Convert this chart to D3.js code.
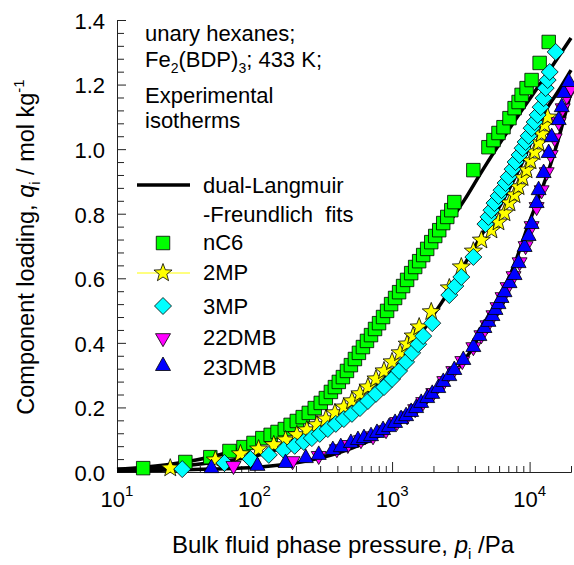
<!DOCTYPE html>
<html>
<head>
<meta charset="utf-8">
<script src="https://cdn.jsdelivr.net/npm/d3@7"></script>
<style>
  body { margin: 0; background: #fff; }
  svg { display: block; font-family: "Liberation Sans", Arial, sans-serif; }
  .axis text { font-family: "Liberation Sans", Arial, sans-serif; font-size: 22px; fill: #000; }
  .axis line, .axis path { stroke: #222; }
</style>
</head>
<body>
<script>
var width = 574, height = 565;

// experimental points, [pressure / Pa, loading / mol kg-1]
var nC6 = [[15.5,0.012],[31.4,0.031],[47.7,0.046],[65.7,0.065],[83.1,0.077],[98.3,0.090],[114,0.105],[131,0.115],
  [147,0.124],[166,0.133],[183,0.146],[203,0.158],[224,0.170],[248,0.183],[274,0.198],[303,0.214],[330,0.229],
  [359,0.248],[384,0.263],[410,0.279],[439,0.294],[470,0.313],[502,0.331],[537,0.350],[574,0.369],[614,0.387],
  [657,0.406],[703,0.424],[752,0.443],[804,0.461],[860,0.480],[920,0.499],[984,0.520],[1052,0.539],[1125,0.557],
  [1203,0.576],[1286,0.595],[1377,0.616],[1472,0.635],[1574,0.653],[1684,0.672],[1800,0.691],[1927,0.712],
  [2060,0.731],[2203,0.749],[2355,0.771],[2520,0.790],[2696,0.811],[2837,0.836],[3900,0.935],[5020,1.006],
  [5460,1.028],[5940,1.050],[6460,1.068],[7140,1.096],[7780,1.127],[8320,1.146],[8750,1.168],[9510,1.189],
  [10340,1.214],[11830,1.267],[13770,1.332]];

var mp2 = [[24.4,0.012],[51.9,0.037],[79.0,0.056],[107,0.071],[138,0.084],[168,0.099],[203,0.115],[240,0.130],
  [284,0.146],[330,0.164],[384,0.183],[446,0.201],[511,0.220],[584,0.242],[668,0.263],[764,0.288],[874,0.313],
  [1000,0.341],[1144,0.369],[1287,0.396],[1423,0.421],[1574,0.449],[1927,0.496],[2607,0.570],[3188,0.635],
  [3901,0.684],[4462,0.718],[5280,0.749],[5940,0.774],[6571,0.802],[7145,0.833],[7773,0.858],[8314,0.883],
  [8893,0.911],[9508,0.935],[10170,0.963],[10880,0.991],[11630,1.019],[12230,1.047],[12870,1.075],[13530,1.099]];

var mp3 = [[29.8,0.009],[60.4,0.028],[93.5,0.040],[127,0.053],[163,0.068],[196,0.081],[228,0.093],[261,0.105],
  [298,0.118],[341,0.133],[390,0.149],[446,0.164],[511,0.180],[584,0.198],[668,0.220],[764,0.242],[874,0.263],
  [1000,0.288],[1125,0.313],[1265,0.341],[1400,0.369],[1548,0.396],[1684,0.421],[1959,0.461],[2607,0.548],
  [2884,0.576],[3188,0.604],[3901,0.666],[4773,0.768],[5020,0.790],[5280,0.811],[5553,0.833],[5940,0.855],
  [6248,0.873],[6683,0.895],[7028,0.914],[7516,0.938],[7905,0.960],[8455,0.982],[8893,1.003],[9350,1.022],
  [9833,1.041],[10340,1.065],[10880,1.084],[11440,1.106],[12030,1.130],[12650,1.158],[13090,1.189],
  [13530,1.214],[14000,1.239],[15480,1.301]];

var dmb22 = [[70.3,0.019],[189,0.034],[293,0.050],[397,0.071],[477,0.084],[594,0.099],[727,0.111],[904,0.130],
  [1088,0.155],[1287,0.173],[1472,0.195],[1684,0.217],[1993,0.245],[2397,0.282],[2788,0.313],[3242,0.344],
  [3901,0.387],[4462,0.424],[4936,0.455],[5461,0.486],[5841,0.511],[6354,0.542],[6911,0.573],[7643,0.607],
  [8455,0.650],[9350,0.700],[10340,0.762],[11250,0.821],[12230,0.873],[13310,0.929],[14230,0.982],
  [15220,1.034],[16280,1.084],[17410,1.127],[18630,1.164],[19930,1.189]];

var dmb23 = [[48.6,0.012],[105,0.019],[168,0.028],[236,0.043],[293,0.053],[371,0.068],[424,0.077],[502,0.090],
  [565,0.099],[625,0.105],[703,0.111],[777,0.121],[860,0.130],[951,0.139],[1052,0.152],[1163,0.164],
  [1265,0.173],[1376,0.186],[1497,0.198],[1628,0.214],[1801,0.229],[1959,0.242],[2167,0.260],[2357,0.279],
  [2607,0.297],[2836,0.316],[3297,0.347],[3901,0.387],[4315,0.421],[4693,0.446],[5020,0.465],[5370,0.483],
  [5648,0.502],[5940,0.520],[6248,0.539],[6571,0.557],[7145,0.585],[7773,0.610],[8314,0.647],[9194,0.697],
  [9833,0.731],[10340,0.768],[11250,0.833],[11630,0.873],[12650,0.926],[13760,0.988],[14470,1.037],
  [16280,1.090],[17130,1.130],[17710,1.174],[19270,1.208]];

// dual-Langmuir-Freundlich fit curves
var fitNC6 = [[10,0.009],[15.5,0.015],[31.4,0.031],[65.7,0.062],[114,0.099],[183,0.139],[303,0.207],[502,0.322],
  [831,0.458],[1377,0.598],[2279,0.737],[3353,0.842],[4462,0.929],[7773,1.087],[13990,1.245],[20000,1.344]];
var fitMP = [[10,0.006],[24.4,0.015],[51.9,0.031],[93.5,0.046],[163,0.077],[303,0.133],[502,0.195],[831,0.276],
  [1265,0.362],[1574,0.418],[1927,0.477],[2279,0.523],[3188,0.626],[4615,0.743],[6248,0.833],[8745,0.954],
  [12870,1.115],[16010,1.177],[20000,1.245]];
var fitDMB = [[10,0.003],[48.6,0.009],[105,0.015],[217,0.031],[424,0.062],[831,0.115],[1376,0.177],[2279,0.260],
  [3033,0.322],[3772,0.378],[4693,0.452],[6248,0.551],[7773,0.644],[9833,0.768],[12230,0.873],[15740,1.013],
  [20000,1.177]];

var xMajor = [10, 100, 1000, 10000];
var yMajor = [0, 0.2, 0.4, 0.6, 0.8, 1.0, 1.2, 1.4];

var svg = d3.select("body").append("svg")
    .attr("width", width)
    .attr("height", height);

svg.append("rect").attr("width", width).attr("height", height).attr("fill", "#fff");

var xScale = d3.scaleLog().domain([10, 20000]).range([117, 571]);
var yScale = d3.scaleLinear().domain([0, 1.4]).range([472, 20]);

//axes
var xMinor = [];
xMajor.forEach(function(d){
  for (var k = 2; k <= 9; k++) { if (d * k <= 20000) xMinor.push(d * k); }
});
var yMinor = d3.range(0, 71).map(function(i){ return i * 0.02; })
  .filter(function(v){ return Math.round(v * 100) % 4 == 0 && Math.round(v * 100) % 20 != 0; });

svg.append("g")
    .attr("class", "axis")
    .attr("transform", "translate(0,472)")
    .call(d3.axisBottom(xScale).tickValues(xMinor).tickSize(-6).tickSizeOuter(0).tickFormat(""));
svg.append("g")
    .attr("class", "axis")
    .attr("transform", "translate(0,472)")
    .call(d3.axisBottom(xScale).tickValues(xMajor).tickSize(-10).tickSizeOuter(0).tickFormat(""));

svg.append("g")
    .attr("class", "axis")
    .attr("transform", "translate(117,0)")
    .call(d3.axisLeft(yScale).tickValues(yMinor).tickSize(-7).tickSizeOuter(0).tickFormat(""));
svg.append("g")
    .attr("class", "axis")
    .attr("transform", "translate(117,0)")
    .call(d3.axisLeft(yScale).tickValues(yMajor).tickSize(-9).tickSizeOuter(0)
      .tickPadding(12).tickFormat(d3.format(".1f")))
  .selectAll("text").attr("dy", "0.38em");

// x tick labels 10^n
xMajor.forEach(function(d){
  var t = svg.append("text")
      .attr("x", xScale(d))
      .attr("y", 507)
      .attr("text-anchor", "middle")
      .style("font-size", "22px");
  t.append("tspan").text("10");
  t.append("tspan").attr("dy", -11).style("font-size", "15px").text(Math.round(Math.log10(d)));
});

// axis titles
var xt = svg.append("text")
    .attr("x", 343).attr("y", 553)
    .attr("text-anchor", "middle")
    .style("font-size", "24px");
xt.append("tspan").text("Bulk fluid phase pressure, ");
xt.append("tspan").style("font-style", "italic").text("p");
xt.append("tspan").attr("dy", 6).style("font-size", "15px").text("i");
xt.append("tspan").attr("dy", -6).text(" /Pa");

var yt = svg.append("text")
    .attr("transform", "translate(34,247) rotate(-90)")
    .attr("text-anchor", "middle")
    .style("font-size", "23.5px");
yt.append("tspan").text("Component loading, ");
yt.append("tspan").style("font-style", "italic").text("q");
yt.append("tspan").attr("dy", 6).style("font-size", "15px").text("i");
yt.append("tspan").attr("dy", -6).text(" / mol kg");
yt.append("tspan").attr("dy", -10).style("font-size", "15px").text("-1");

// annotation
var note = svg.append("g").style("font-size", "22px");
note.append("text").attr("x", 145).attr("y", 41).text("unary hexanes;");
var fe = note.append("text").attr("x", 145).attr("y", 67);
fe.append("tspan").text("Fe");
fe.append("tspan").attr("dy", 6).style("font-size", "14px").text("2");
fe.append("tspan").attr("dy", -6).text("(BDP)");
fe.append("tspan").attr("dy", 6).style("font-size", "14px").text("3");
fe.append("tspan").attr("dy", -6).text("; 433 K;");
note.append("text").attr("x", 145).attr("y", 103).text("Experimental");
note.append("text").attr("x", 145).attr("y", 128).text("isotherms");

// marker shapes
function squarePath(s){ var h = s / 2; return "M" + (-h) + "," + (-h) + "h" + s + "v" + s + "h" + (-s) + "Z"; }
function diamondPath(r){ return "M0," + (-r) + "L" + r + ",0L0," + r + "L" + (-r) + ",0Z"; }
function triUpPath(w, h){ return "M0," + (-2 * h / 3) + "L" + (w / 2) + "," + (h / 3) + "L" + (-w / 2) + "," + (h / 3) + "Z"; }
function triDownPath(w, h){ return "M0," + (2 * h / 3) + "L" + (w / 2) + "," + (-h / 3) + "L" + (-w / 2) + "," + (-h / 3) + "Z"; }
function starPath(R, r){
  var pts = [];
  for (var i = 0; i < 10; i++) {
    var a = -Math.PI / 2 + i * Math.PI / 5, rad = (i % 2 == 0) ? R : r;
    pts.push((rad * Math.cos(a)).toFixed(2) + "," + (rad * Math.sin(a)).toFixed(2));
  }
  return "M" + pts.join("L") + "Z";
}

var series = [
  { name: "nC6",   data: nC6,   fill: "#00ff00", path: squarePath(13.5) },
  { name: "2MP",   data: mp2,   fill: "#ffff00", path: starPath(9.5, 4) },
  { name: "3MP",   data: mp3,   fill: "#00ffff", path: diamondPath(8.5) },
  { name: "22DMB", data: dmb22, fill: "#ff00ff", path: triDownPath(15, 13) },
  { name: "23DMB", data: dmb23, fill: "#0000ff", path: triUpPath(15, 13.5) }
];

// fits
var fitLine = d3.line()
    .x(function(d){ return xScale(d[0]); })
    .y(function(d){ return yScale(d[1]); })
    .curve(d3.curveMonotoneX);

[fitNC6, fitMP, fitDMB].forEach(function(f){
  svg.append("path")
      .datum(f)
      .attr("d", fitLine)
      .attr("fill", "none")
      .attr("stroke", "#000")
      .attr("stroke-width", 3.5);
});

// points
series.forEach(function(s){
  svg.append("g").selectAll("path")
      .data(s.data)
      .enter().append("path")
      .attr("d", s.path)
      .attr("transform", function(d){ return "translate(" + xScale(d[0]) + "," + yScale(d[1]) + ")"; })
      .attr("fill", s.fill)
      .attr("stroke", "#000")
      .attr("stroke-width", 0.8);
});

// legend
var legend = svg.append("g").style("font-size", "22px");
legend.append("line")
    .attr("x1", 137).attr("x2", 190).attr("y1", 185).attr("y2", 185)
    .attr("stroke", "#000").attr("stroke-width", 3.5);
legend.append("text").attr("x", 203).attr("y", 193).text("dual-Langmuir");
legend.append("text").attr("x", 203).attr("y", 222).style("white-space", "pre").text("-Freundlich  fits");

var legY = [243, 273, 306, 338, 366];
var legText = [250, 280, 314, 345, 375];
legend.append("line")
    .attr("x1", 137).attr("x2", 190).attr("y1", legY[1]).attr("y2", legY[1])
    .attr("stroke", "#ffff00").attr("stroke-width", 1);
series.forEach(function(s, i){
  legend.append("path")
      .attr("d", s.path)
      .attr("transform", "translate(163," + legY[i] + ")")
      .attr("fill", s.fill)
      .attr("stroke", "#000")
      .attr("stroke-width", 0.8);
  legend.append("text").attr("x", 203).attr("y", legText[i]).text(s.name);
});
</script>
</body>
</html>
